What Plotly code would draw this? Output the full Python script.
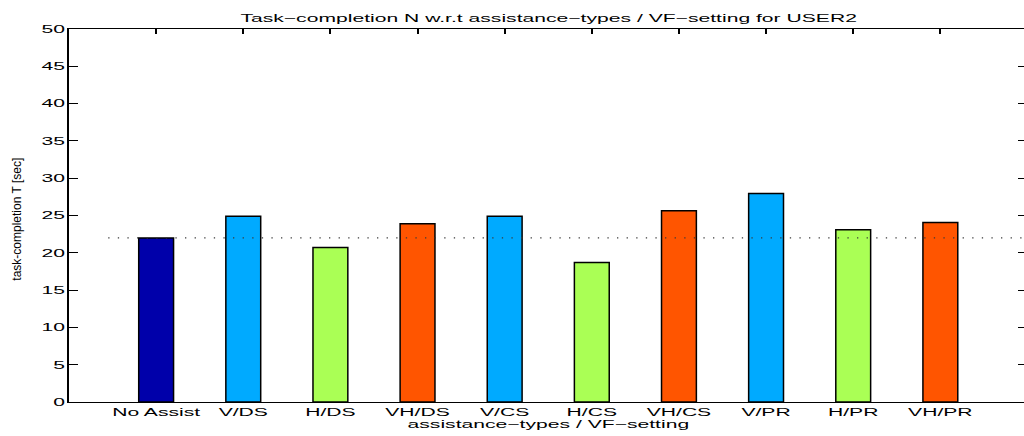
import plotly.graph_objects as go

# Task-completion times per assistance type / VF setting (USER2)
categories = ["No Assist", "V/DS", "H/DS", "VH/DS", "V/CS",
              "H/CS", "VH/CS", "V/PR", "H/PR", "VH/PR"]
completion_time = [22.0, 24.9, 20.7, 23.9, 24.9, 18.7, 25.65, 27.95, 23.1, 24.05]
assist_type = ["none", "V", "H", "VH", "V", "H", "VH", "V", "H", "VH"]
y_ticks = [0, 5, 10, 15, 20, 25, 30, 35, 40, 45, 50]

# reference level: the unassisted run
baseline_time = completion_time[0]

type_colors = {"none": "#0000AA", "V": "#00AAFF", "H": "#AAFF55", "VH": "#FF5500"}
positions = list(range(1, len(categories) + 1))
FONT = "Liberation Sans, Arial, Helvetica, sans-serif"

fig = go.Figure()
fig.add_trace(go.Bar(
    x=positions, y=completion_time, width=0.4,
    marker=dict(color=[type_colors[t] for t in assist_type],
                line=dict(color="black", width=1.5)),
    showlegend=False, hoverinfo="y",
))
fig.add_trace(go.Scatter(
    x=[0.45, 11], y=[baseline_time, baseline_time], mode="lines",
    line=dict(color="#3a3a3a", width=1.3, dash="1.3px,8.3px"),
    yaxis="y2", showlegend=False, hoverinfo="skip",
))

fig.update_layout(
    width=1024, height=436,
    margin=dict(l=69, r=0, t=29, b=34),
    paper_bgcolor="white", plot_bgcolor="white",
    font=dict(family=FONT, size=11, color="black"),
    xaxis=dict(
        range=[0, 10.96], tickmode="array", tickvals=positions, ticktext=categories,
        ticks="inside", ticklen=5, tickwidth=1.5, tickcolor="black",
        showline=True, linewidth=1.2, linecolor="black", mirror="ticks",
        showgrid=False, zeroline=False, layer="below traces",
        tickfont=dict(family=FONT, size=11, color="black"),
    ),
    yaxis=dict(
        range=[0, 50], tickmode="array", tickvals=y_ticks,
        ticks="inside", ticklen=9, tickwidth=1, tickcolor="black",
        showline=True, linewidth=1.8, linecolor="black", mirror=False,
        showgrid=False, zeroline=False, layer="below traces",
        tickfont=dict(family=FONT, size=11, color="black"),
    ),
    yaxis2=dict(
        overlaying="y", side="right", range=[0, 50], tickmode="array", tickvals=y_ticks,
        ticks="inside", ticklen=6, tickwidth=1, tickcolor="black",
        showticklabels=False, showline=False, showgrid=False, zeroline=False,
    ),
    annotations=[
        dict(text="Task\u2212completion N w.r.t assistance\u2212types / VF\u2212setting for USER2",
             xref="paper", yref="paper", x=0.5026, y=1.029, xanchor="center", yanchor="middle",
             showarrow=False, font=dict(family=FONT, size=11, color="black")),
        dict(text="assistance\u2212types / VF\u2212setting",
             xref="paper", yref="paper", x=0.5026, y=-0.06, xanchor="center", yanchor="middle",
             showarrow=False, font=dict(family=FONT, size=11, color="black")),
        dict(text="task-completion T [sec]",
             xref="paper", yref="paper", x=-0.054, y=0.49, xanchor="center", yanchor="middle",
             textangle=-90, showarrow=False, font=dict(family=FONT, size=12, color="black")),
    ],
)

# Widen the horizontal labels (tick labels, title, x label) around their anchor points.
widen_js = """
(function(){
  var gd = document.getElementById('{plot_id}');
  var S = 1.92;
  function widen(){
    gd.querySelectorAll('.xtick text, .ytick text, .annotation-text').forEach(function(el){
      if (el.getAttribute('data-wide')) return;
      if ((el.textContent || '').indexOf('task-completion') === 0) return;
      var bb = el.getBBox();
      var anchor = el.getAttribute('text-anchor') || 'start';
      var isAnn = el.classList.contains('annotation-text');
      var px;
      if (isAnn || anchor === 'middle') px = bb.x + bb.width / 2;
      else if (anchor === 'end') px = bb.x + bb.width;
      else px = bb.x;
      var old = el.getAttribute('transform') || '';
      el.setAttribute('transform', old + ' translate(' + px + ',0) scale(' + S + ',1) translate(' + (-px) + ',0)');
      el.setAttribute('data-wide', '1');
    });
  }
  widen();
  if (gd.on) gd.on('plotly_afterplot', widen);
})();
"""

fig.write_html("out.html", post_script=widen_js)
